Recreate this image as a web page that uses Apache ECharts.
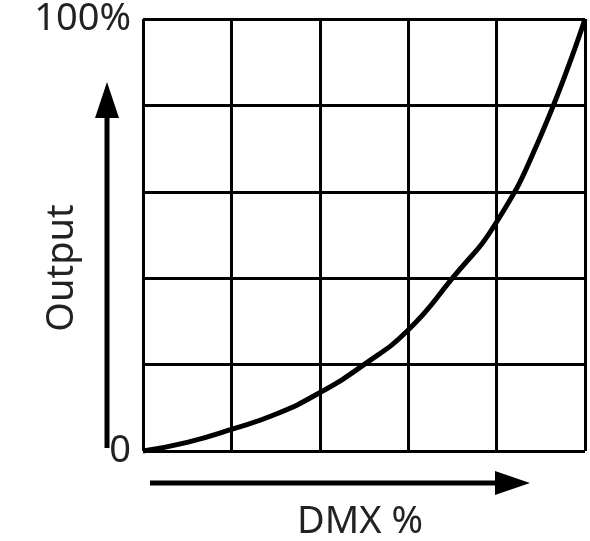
<!DOCTYPE html>
<html><head><meta charset="utf-8">
<script src="https://cdn.jsdelivr.net/npm/echarts@6/dist/echarts.min.js"></script>
<style>html,body{margin:0;padding:0;background:#fff}#c{width:590px;height:541px}</style>
</head><body><div id="c"></div>
<script>
const dmx = [0,10,20,30,40,50,60,70,80,90,100];
const output = [0,2,5,8.5,13.5,20,28,40,53,73,100];
const yTickLabels = {0:'0',100:'100%'};
const xTitle = 'DMX %';
const yTitle = 'Output';

const chart = echarts.init(document.getElementById('c'));
const F = 'Noto Sans';
chart.setOption({
  animation:false,
  grid:{left:143,right:5,top:5,bottom:90},
  xAxis:{type:'value',min:0,max:100,interval:20,
    axisLine:{show:false},axisTick:{show:false},axisLabel:{show:false},
    splitLine:{show:true,lineStyle:{color:'#000',width:3}}},
  yAxis:{type:'value',min:0,max:100,interval:20,
    axisLine:{show:false},axisTick:{show:false},
    axisLabel:{margin:12,fontFamily:F,fontSize:38,color:'#222',
      formatter:v=>yTickLabels[v]||'',
      verticalAlign:'middle'},
    splitLine:{show:true,lineStyle:{color:'#000',width:3}}},
  series:[{type:'line',data:dmx.map((x,i)=>[x,output[i]]),smooth:true,showSymbol:false,
    lineStyle:{color:'#000',width:5},clip:false}],
  graphic:[
    {type:'line',shape:{x1:107,y1:448,x2:107,y2:110},style:{stroke:'#000',lineWidth:5}},
    {type:'polygon',shape:{points:[[107,82],[95,118],[119,118]]},style:{fill:'#000'}},
    {type:'line',shape:{x1:150,y1:483,x2:500,y2:483},style:{stroke:'#000',lineWidth:5}},
    {type:'polygon',shape:{points:[[530,483],[495,471],[495,495]]},style:{fill:'#000'}},
    {type:'text',x:360,y:522,style:{text:xTitle,font:'38px "Noto Sans"',fill:'#222',align:'center',verticalAlign:'middle'}},
    {type:'text',x:62,y:268,rotation:Math.PI/2,style:{text:yTitle,font:'38px "Noto Sans"',fill:'#222',align:'center',verticalAlign:'middle'}}
  ]
});
</script></body></html>
